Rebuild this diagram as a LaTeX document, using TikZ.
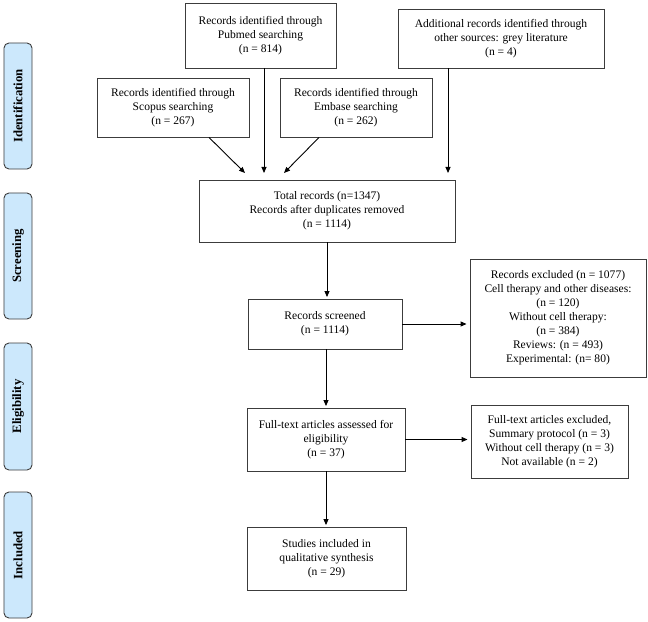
\documentclass[tikz,border=0pt]{standalone}
\usepackage{fontspec}
\setmainfont{Liberation Serif}
\usetikzlibrary{arrows.meta,calc}
\definecolor{sidefill}{RGB}{204,232,252}
\definecolor{boxline}{RGB}{60,60,60}
\begin{document}
\begin{tikzpicture}[x=1bp,y=-1bp,
  box/.style={draw=boxline,line width=0.9bp,align=center,inner sep=0pt,
    font=\fontsize{11.6}{14}\selectfont},
  side/.style={draw=boxline,line width=0.9bp,fill=sidefill,rounded corners=5bp,
    minimum width=126bp,minimum height=28bp,rotate=90,inner sep=0pt,
    font=\fontsize{12.8}{14}\selectfont\bfseries},
  arr/.style={line width=0.9bp,-{Triangle[length=6bp,width=5bp]}}]
\useasboundingbox (0,0) rectangle (648,622);
% side bars
\node[side] (sid) at (18,106) {Identification};
\node[side] (ssc) at (18,256) {Screening};
\node[side,minimum width=127bp] (sel) at (18,406.5) {Eligibility};
\node[side] (sin) at (18,555) {Included};
% boxes
\node[box,minimum width=151bp,minimum height=65bp] (pubmed) at (260.5,35.5)
  {Records identified through\\Pubmed searching\\(n = 814)};
\node[box,minimum width=206bp,minimum height=59bp] (grey) at (501,38.5)
  {Additional records identified through\\other sources: grey literature\\(n = 4)};
\node[box,minimum width=152bp,minimum height=59bp] (scopus) at (173,107.5)
  {Records identified through\\Scopus searching\\(n = 267)};
\node[box,minimum width=152bp,minimum height=59bp] (embase) at (356,107.5)
  {Records identified through\\Embase searching\\(n = 262)};
\node[box,minimum width=256bp,minimum height=62bp] (total) at (327,211)
  {Total records (n=1347)\\Records after duplicates removed\\(n = 1114)};
\node[box,minimum width=154bp,minimum height=50bp] (screened) at (325,324)
  {Records screened\\(n = 1114)};
\node[box,minimum width=176bp,minimum height=118bp] (excl1) at (558,318)
  {Records excluded (n = 1077)\\Cell therapy and other diseases:\\(n = 120)\\Without cell therapy:\\(n = 384)\\Reviews: (n = 493)\\Experimental: (n= 80)};
\node[box,minimum width=158bp,minimum height=63bp] (fulltext) at (326,439.5)
  {Full-text articles assessed for\\eligibility\\(n = 37)};
\node[box,minimum width=157bp,minimum height=73bp] (excl2) at (549.5,441.5)
  {Full-text articles excluded,\\Summary protocol (n = 3)\\Without cell therapy (n = 3)\\Not available (n = 2)};
\node[box,minimum width=159bp,minimum height=63bp] (included) at (326.5,558.5)
  {Studies included in\\qualitative synthesis\\(n = 29)};
% connector ends
\coordinate (sA) at ($(scopus.south)+(36,0)$);
\coordinate (sB) at (245,173);
\coordinate (pA) at (pubmed.south -| 264,0);
\coordinate (pB) at (264,173);
\coordinate (eA) at ($(embase.south)+(-37,0)$);
\coordinate (eB) at (284,173);
\coordinate (gA) at (grey.south -| 448,0);
\coordinate (gB) at (448,173);
\draw[arr] (sA) -- (sB);
\draw[arr] (pA) -- (pB);
\draw[arr] (eA) -- (eB);
\draw[arr] (gA) -- (gB);
\draw[arr,shorten >=1.5bp] (total.south -| screened.north) ++(2,0) coordinate (t1) -- (t1 |- screened.north);
\draw[arr,shorten >=3bp] (screened.east) -- (excl1.west |- screened.east);
\draw[arr,shorten >=1.5bp] (screened.south) ++(1,0) coordinate (s1) -- (s1 |- fulltext.north);
\draw[arr,shorten >=3bp] (fulltext.east) -- (excl2.west |- fulltext.east);
\draw[arr,shorten >=1.5bp] (fulltext.south) -- (included.north -| fulltext.south);
\end{tikzpicture}
\end{document}
